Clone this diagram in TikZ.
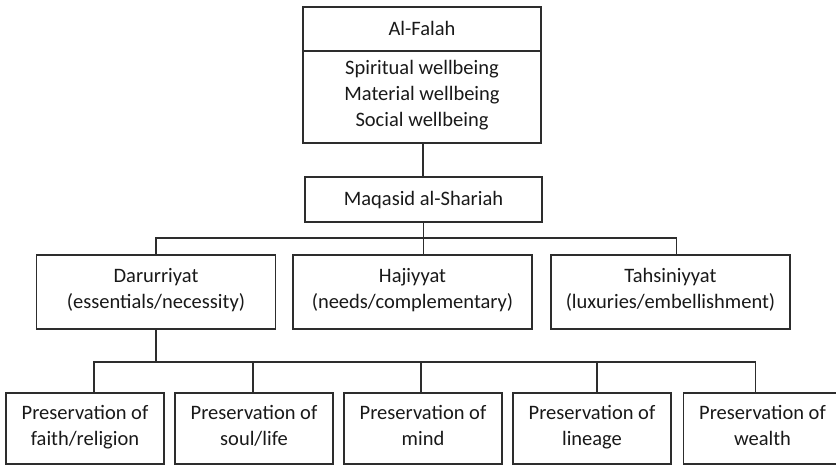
\documentclass[tikz,border=0pt]{standalone}
\usepackage{fontspec}
\setmainfont{Carlito}
\usetikzlibrary{positioning}
\definecolor{lineGray}{RGB}{45,45,45}
\definecolor{textGray}{RGB}{25,25,25}
\newcommand{\linestrut}{\rule[-6.6pt]{0pt}{26pt}}

\begin{document}
\begin{tikzpicture}[x=1pt, y=-1pt,
        box/.style={rectangle, draw=lineGray, line width=1.3pt, text=textGray, align=center, inner sep=0pt, font=\fontsize{20.5}{26}\selectfont, execute at begin node=\linestrut, execute at end node=\linestrut},
        goal/.style={box, minimum width=238pt},
        level/.style={box, minimum width=239pt, minimum height=74pt},
        leaf/.style={box, minimum width=158pt, minimum height=71pt},
        link/.style={draw=lineGray, line width=1.3pt}
    ]
        \clip (0,0) rectangle (836,466);

        \node[goal, minimum height=44pt] (falah) at (422,29) {Al-Falah};
        \node[goal, minimum height=92pt] (wellbeing) at (422,97) {Spiritual wellbeing\\Material wellbeing\\Social wellbeing};
        \node[goal, minimum width=237pt, minimum height=45pt] (maqasid) at (423.5,199.5) {Maqasid al-Shariah};

        \node[level] (daruriyat) at (156,292) {Darurriyat\\(essentials/necessity)};
        \node[level] (hajiyyat) at (412.5,292) {Hajiyyat\\(needs/complementary)};
        \node[level] (tahsiniyyat) at (670.5,292) {Tahsiniyyat\\(luxuries/embellishment)};

        \node[leaf] (faith) at (85,428.5) {Preservation of\\faith/religion};
        \node[leaf] (life) at (254,428.5) {Preservation of\\soul/life};
        \node[leaf] (mind) at (423,428.5) {Preservation of\\mind};
        \node[leaf] (lineage) at (592,428.5) {Preservation of\\lineage};
        \node[leaf] (wealth) at (762.5,428.5) {Preservation of\\wealth};

        \coordinate (topbar) at (423.5,238);
        \coordinate (lowbar) at (156,362);

        \draw[link] ([xshift=1pt]wellbeing.south) -- ([xshift=1pt]wellbeing.south |- maqasid.north);
        \draw[link] (maqasid.south) -- (maqasid.south |- hajiyyat.north);
        \draw[link] (daruriyat.north) |- (topbar) -| ([xshift=6pt]tahsiniyyat.north);
        \draw[link] (daruriyat.south) -- (lowbar);
        \draw[link] ([xshift=9pt]faith.north) |- (lowbar) -| ([xshift=-7pt]wealth.north);
        \draw[link] ([xshift=-1pt]life.north) -- ++(0,-31);
        \draw[link] ([xshift=-2pt]mind.north) -- ++(0,-31);
        \draw[link] ([xshift=5pt]lineage.north) -- ++(0,-31);
    \end{tikzpicture}
\end{document}
